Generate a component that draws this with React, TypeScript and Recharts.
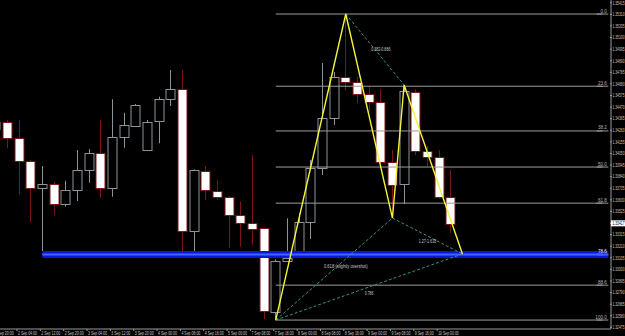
import React from "react";
import { ComposedChart, Bar, Line, XAxis, YAxis, ReferenceLine, ReferenceDot } from "recharts";

// H4 slots, -1 is the bar cut off at the left edge, 39 is where D sits
const firstSlot = -1;
const lastSlot = 51;

const opens = [1.34278, 1.34332, 1.34193, 1.33982, 1.33734, 1.33773, 1.33589, 1.33719, 1.33894, 1.34051, 1.33734, 1.34196, 1.34299, 1.34081, 1.34338, 1.34541, 1.34634, 1.3335, 1.33894, 1.33713, 1.33658, 1.33492, 1.33417, 1.33372, 1.32617, 1.33076, 1.33109, 1.33426, 1.33918, 1.34371, 1.34745, 1.347, 1.34589, 1.34519, 1.33973, 1.33773, 1.34609, 1.34072, 1.34018, 1.33658];
const highs = [1.34353, 1.34353, 1.34353, 1.33991, 1.33936, 1.33794, 1.33803, 1.34081, 1.3409, 1.34353, 1.34541, 1.34419, 1.34498, 1.34353, 1.34564, 1.34806, 1.34806, 1.33905, 1.33936, 1.33803, 1.33665, 1.33613, 1.34036, 1.33375, 1.3309, 1.33463, 1.33511, 1.33991, 1.34869, 1.34788, 1.35313, 1.34745, 1.34655, 1.34634, 1.34081, 1.3467, 1.34631, 1.34118, 1.34081, 1.339];
const lows = [1.3426, 1.34097, 1.33674, 1.33429, 1.33166, 1.33492, 1.33568, 1.33619, 1.33785, 1.33649, 1.33658, 1.34102, 1.3429, 1.34072, 1.34142, 1.3448, 1.33112, 1.33151, 1.33628, 1.33628, 1.33194, 1.33205, 1.33221, 1.3255, 1.32541, 1.33067, 1.33103, 1.33275, 1.33855, 1.34308, 1.34625, 1.34504, 1.34426, 1.33918, 1.33465, 1.33592, 1.34036, 1.33936, 1.33637, 1.3333];
const closes = [1.34338, 1.34187, 1.33982, 1.33734, 1.33773, 1.33589, 1.33719, 1.339, 1.34051, 1.33734, 1.34196, 1.34305, 1.34489, 1.34338, 1.34541, 1.34634, 1.3335, 1.339, 1.33719, 1.33658, 1.33492, 1.33417, 1.33366, 1.32617, 1.3308, 1.33106, 1.33426, 1.33918, 1.34371, 1.34745, 1.347, 1.34589, 1.34519, 1.33973, 1.33764, 1.34618, 1.34072, 1.34018, 1.33658, 1.33417];

// one label every second bar, starting at slot -1
const timeLabels = ["1 Sep 20:00", "2 Sep 04:00", "2 Sep 12:00", "2 Sep 20:00", "3 Sep 04:00", "3 Sep 12:00", "3 Sep 20:00", "4 Sep 00:00", "4 Sep 08:00", "4 Sep 16:00", "5 Sep 00:00", "7 Sep 08:00", "7 Sep 16:00", "8 Sep 00:00", "8 Sep 08:00", "8 Sep 16:00", "9 Sep 00:00", "9 Sep 08:00", "9 Sep 16:00", "10 Sep 00:00"];

const priceTicks = [1.35415, 1.3531, 1.35205, 1.351, 1.34995, 1.3489, 1.34785, 1.3468, 1.34575, 1.3447, 1.34365, 1.3426, 1.34155, 1.3405, 1.33945, 1.3384, 1.33735, 1.3363, 1.33525, 1.3342, 1.33315, 1.3321, 1.33105, 1.33, 1.32895, 1.3279, 1.32685, 1.3258, 1.32475];

const fibNames = ["0.0", "23.6", "38.2", "50.0", "61.8", "78.6", "88.6", "100.0"];
const fibPrices = [1.35313, 1.34659, 1.34254, 1.33927, 1.336, 1.33134, 1.32857, 1.32541];
const fibFrom = 23;

const zoneFrom = 3;
const zonePrice = 1.33134;

const patternSlots = [23, 29, 33, 34, 39]; // X A B C D
const patternPrices = [1.32541, 1.35313, 1.33465, 1.3467, 1.3314];
const legs = [[0, 2], [0, 4], [2, 4], [1, 3]];

const noteTexts = ["0.382-0.886", "1.27-1.618", "0.618 (slightly overshot)", "0.786"];
const noteSlots = [32, 36, 29, 31];
const notePrices = [1.34996, 1.33251, 1.33033, 1.32783];

const lastClose = closes[closes.length - 1];

const rows: any[] = [];
for (let i = firstSlot; i <= lastSlot; i++) {
  const k = i - firstSlot;
  const row: any = { i };
  if (k < opens.length) {
    row.o = opens[k];
    row.h = highs[k];
    row.l = lows[k];
    row.c = closes[k];
    row.range = [lows[k], highs[k]];
  }
  const p = patternSlots.indexOf(i);
  if (p >= 0) row.pat = patternPrices[p];
  legs.forEach(([a, b], n) => {
    if (patternSlots[a] === i) row["leg" + n] = patternPrices[a];
    if (patternSlots[b] === i) row["leg" + n] = patternPrices[b];
  });
  rows.push(row);
}

const font = "'Liberation Sans', Arial, sans-serif";
const bullEdge = "#8a9499";
const bearEdge = "#7d1515";

function Candle(props: any) {
  const { x, y, width, height, payload } = props;
  if (payload == null || payload.h == null || !isFinite(y)) return <g />;
  const top = Math.min(y, y + height);
  const span = Math.abs(height);
  const ratio = span / (payload.h - payload.l);
  const yo = top + (payload.h - payload.o) * ratio;
  const yc = top + (payload.h - payload.c) * ratio;
  const bull = payload.c >= payload.o;
  const cx = Math.round(x + width / 2) + 0.5;
  const bodyTop = Math.round(Math.min(yo, yc)) + 0.5;
  const bodyH = Math.max(Math.round(Math.abs(yc - yo)), 1);
  const edge = bull ? bullEdge : bearEdge;
  return (
    <g>
      <line x1={cx} x2={cx} y1={top} y2={top + span} stroke={edge} strokeWidth={1} />
      <rect x={cx - 4.5} y={bodyTop} width={9} height={bodyH} fill={bull ? "#000" : "#fff"} stroke={edge} strokeWidth={1} />
    </g>
  );
}

function TimeTick(props: any) {
  const { x, y, payload } = props;
  const k = payload.value - firstSlot;
  const label = k % 2 === 0 ? timeLabels[k / 2] : undefined;
  if (!label) return <g />;
  return (
    <g>
      <line x1={x - 2} x2={x - 2} y1={y} y2={y + 2} stroke="#9a9a9a" />
      <text
        x={x - 1}
        y={y + 5.5}
        fontSize={4.6}
        fill="#c8c8c8"
        fontFamily={font}
        textLength={label.length * 1.72}
        lengthAdjust="spacingAndGlyphs"
      >
        {label}
      </text>
    </g>
  );
}

function PriceTick(props: any) {
  const { x, y, payload } = props;
  const v = payload.value;
  const current = v === lastClose;
  return (
    <g>
      <line x1={x - 2} x2={x} y1={y} y2={y} stroke="#9a9a9a" />
      {current && <rect x={x - 1} y={y - 3} width={16} height={6} fill="#fff" />}
      <text
        x={x + 0.5}
        y={y + 1.8}
        fontSize={4.8}
        fill={current ? "#000" : "#c8c8c8"}
        fontFamily={font}
        textLength={12}
        lengthAdjust="spacingAndGlyphs"
      >
        {v.toFixed(5)}
      </text>
    </g>
  );
}

export default function App() {
  return (
    <div style={{ position: "absolute", left: 0, top: 0, width: 625, height: 336, background: "#000" }}>
      <ComposedChart width={625} height={336} data={rows} margin={{ top: 0, right: 0, bottom: 0, left: -10.17 }}>
        <XAxis
          dataKey="i"
          type="category"
          height={7}
          interval={0}
          padding={{ left: 0, right: 2.66 }}
          axisLine={{ stroke: "#9a9a9a" }}
          tickLine={false}
          tickSize={0}
          tickMargin={0}
          tick={(p: any) => <TimeTick {...p} />}
        />
        <YAxis
          orientation="right"
          type="number"
          width={14}
          domain={[1.3246, 1.3544]}
          allowDataOverflow
          ticks={[...priceTicks, lastClose]}
          interval={0}
          axisLine={{ stroke: "#9a9a9a" }}
          tickLine={false}
          tickSize={0}
          tickMargin={1}
          tick={(p: any) => <PriceTick {...p} />}
        />

        <ReferenceLine segment={[{ x: zoneFrom, y: zonePrice }, { x: lastSlot, y: zonePrice }]} stroke="#0c16d8" strokeWidth={7} />
        <ReferenceLine segment={[{ x: lastSlot - 1, y: zonePrice }, { x: lastSlot, y: zonePrice }]} position="end" stroke="#0c16d8" strokeWidth={7} />
        <ReferenceLine segment={[{ x: zoneFrom, y: zonePrice }, { x: lastSlot, y: zonePrice }]} stroke="#4262ff" strokeWidth={2} />
        <ReferenceLine segment={[{ x: lastSlot - 1, y: zonePrice }, { x: lastSlot, y: zonePrice }]} position="end" stroke="#4262ff" strokeWidth={2} />

        {fibPrices.map((lvl, n) => (
          <ReferenceLine
            key={"f" + n}
            segment={[{ x: fibFrom, y: lvl }, { x: lastSlot, y: lvl }]}
            stroke={fibNames[n] === "78.6" ? "#4262ff" : "#9c9c9c"}
            strokeWidth={1}
          />
        ))}
        {fibPrices.map((lvl, n) => (
          <ReferenceLine
            key={"g" + n}
            segment={[{ x: lastSlot - 1, y: lvl }, { x: lastSlot, y: lvl }]}
            position="end"
            stroke={fibNames[n] === "78.6" ? "#4262ff" : "#9c9c9c"}
            strokeWidth={1}
            label={{
              value: fibNames[n],
              position: "insideBottomRight",
              offset: 1.5,
              fontSize: 4.6,
              fill: fibNames[n] === "78.6" ? "#e8e8ff" : "#b4b4b4",
              fontFamily: font,
            }}
          />
        ))}

        <Bar dataKey="range" barSize={9} shape={(p: any) => <Candle {...p} />} isAnimationActive={false} />

        {legs.map((_, n) => (
          <Line
            key={"l" + n}
            type="linear"
            dataKey={"leg" + n}
            stroke="#3d8f80"
            strokeWidth={1}
            strokeDasharray="3 2"
            connectNulls
            dot={false}
            activeDot={false}
            isAnimationActive={false}
          />
        ))}
        <Line
          type="linear"
          dataKey="pat"
          stroke="#f4f43a"
          strokeWidth={1.4}
          connectNulls
          dot={false}
          activeDot={false}
          isAnimationActive={false}
        />

        {noteTexts.map((t, n) => (
          <ReferenceDot
            key={t}
            x={noteSlots[n]}
            y={notePrices[n]}
            r={0}
            shape={(p: any) => (
              <text
                x={p.cx}
                y={p.cy + 1.8}
                textAnchor="middle"
                fontSize={4.8}
                fill="#c9c9c9"
                fontFamily={font}
                textLength={t.length * 1.75}
                lengthAdjust="spacingAndGlyphs"
              >
                {t}
              </text>
            )}
          />
        ))}
      </ComposedChart>
    </div>
  );
}
